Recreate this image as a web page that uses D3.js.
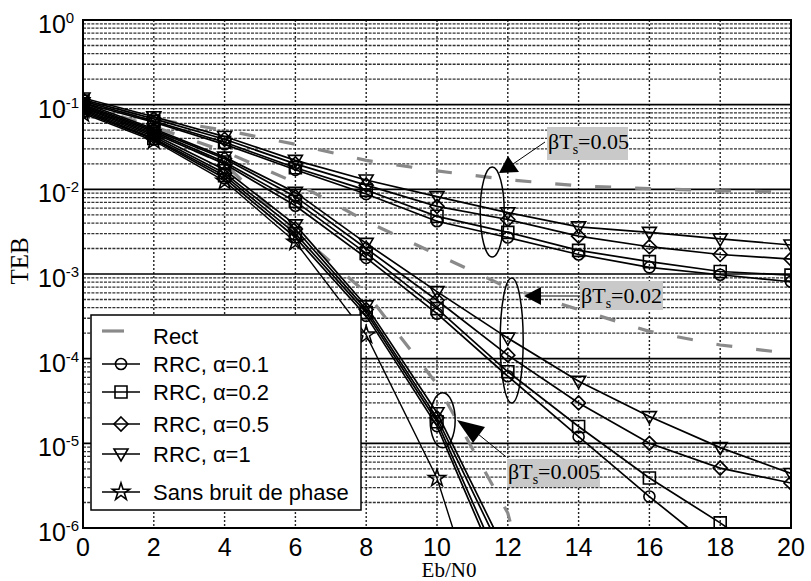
<!DOCTYPE html>
<html>
<head>
<meta charset="utf-8">
<script src="https://cdnjs.cloudflare.com/ajax/libs/d3/7.8.5/d3.min.js"></script>
<style>
  body { margin: 0; background: #fff; }
  svg { display: block; }
</style>
</head>
<body>
<div class="chart"></div>
<script>
// Eb/N0 points (dB)
var ebn0 = [0, 2, 4, 6, 8, 10, 12, 14, 16, 18, 20];
var xTicks = [0, 2, 4, 6, 8, 10, 12, 14, 16, 18, 20];
var yTicks = [0, -1, -2, -3, -4, -5, -6];

// Rect pulse, one curve per phase noise level (betaTs = 0.05, 0.02, 0.005)
var rect05 = [0.11, 0.068, 0.05, 0.034, 0.022, 0.0165, 0.013, 0.011, 0.0102, 0.0096, 0.0093];
var rect02 = [0.1, 0.055, 0.028, 0.012, 0.0042, 0.0017, 0.00069, 0.00038, 0.00021, 0.000145, 0.000115];
var rect005 = [0.095, 0.048, 0.02, 0.0032, 0.0006, 0.00005, 0.0000015, 1e-9, null, null, null];

// RRC, betaTs = 0.05
var a01_05 = [0.105, 0.062, 0.034, 0.017, 0.0088, 0.0042, 0.0027, 0.0017, 0.0012, 0.00098, 0.00081];
var a02_05 = [0.11, 0.064, 0.036, 0.018, 0.0098, 0.0048, 0.0031, 0.0019, 0.0014, 0.00107, 0.00097];
var a05_05 = [0.115, 0.068, 0.039, 0.02, 0.0112, 0.0063, 0.0044, 0.0028, 0.0021, 0.0017, 0.0015];
var a1_05 = [0.12, 0.072, 0.042, 0.022, 0.0129, 0.0082, 0.0053, 0.0036, 0.0031, 0.0026, 0.0022];

// RRC, betaTs = 0.02
var a01_02 = [0.094, 0.046, 0.02, 0.0064, 0.00155, 0.00034, 0.000062, 0.000012, 0.00000235, 0.0000005, 0.0000002];
var a02_02 = [0.097, 0.048, 0.021, 0.0072, 0.00175, 0.00039, 0.00007, 0.0000158, 0.0000039, 0.00000115, 0.0000003];
var a05_02 = [0.1, 0.05, 0.023, 0.0082, 0.002, 0.00049, 0.00011, 0.00003, 0.00001, 0.0000051, 0.0000034];
var a1_02 = [0.105, 0.052, 0.024, 0.0092, 0.0023, 0.00062, 0.000175, 0.000054, 0.0000207, 0.0000089, 0.0000044];

// RRC, betaTs = 0.005
var a01_005 = [0.082, 0.039, 0.0135, 0.0027, 0.00032, 0.000016, 0.00000018, null, null, null, null];
var a02_005 = [0.085, 0.040, 0.0145, 0.003, 0.00035, 0.000018, 0.00000023, null, null, null, null];
var a05_005 = [0.088, 0.042, 0.0155, 0.0034, 0.00038, 0.00002, 0.00000037, null, null, null, null];
var a1_005 = [0.092, 0.044, 0.017, 0.0038, 0.00042, 0.000023, 0.00000046, null, null, null, null];

// without phase noise
var noPhase = [0.0786, 0.0375, 0.0125, 0.00239, 0.000191, 0.00000387, 0.000000009, null, null, null, null];

var legendLabels = ["Rect", "RRC, \u03b1=0.1", "RRC, \u03b1=0.2", "RRC, \u03b1=0.5", "RRC, \u03b1=1", "Sans bruit de phase"];
var groupLabels = ["0.05", "0.02", "0.005"];

var width = 811, height = 581;
var margin = { top: 20, right: 20, bottom: 53, left: 83 };

var svg = d3.select(".chart").append("svg")
    .attr("width", width)
    .attr("height", height);

var x = d3.scaleLinear().domain([0, 20]).range([margin.left, width - margin.right]);
var y = d3.scaleLog().domain([1e-6, 1]).range([height - margin.bottom, margin.top]);

var sans = "'Liberation Sans', Arial, sans-serif";
var serif = "'Liberation Serif', 'Times New Roman', serif";

// grid
var grid = svg.append("g");
var minor = [];
yTicks.slice(0, -1).forEach(function (e) {
    for (var k = 2; k <= 9; k++) minor.push(k * Math.pow(10, e - 1));
});
grid.selectAll(".minor").data(minor).enter().append("line")
    .attr("x1", x(0)).attr("x2", x(20))
    .attr("y1", d => y(d)).attr("y2", d => y(d))
    .attr("stroke", "#333").attr("stroke-width", 1.3)
    .attr("stroke-dasharray", "3,1.2");
grid.selectAll(".vgrid").data(xTicks.slice(1, -1)).enter().append("line")
    .attr("x1", d => x(d)).attr("x2", d => x(d))
    .attr("y1", y(1)).attr("y2", y(1e-6))
    .attr("stroke", "#222").attr("stroke-width", 1.4)
    .attr("stroke-dasharray", "2,2");
grid.selectAll(".major").data(yTicks.slice(1, -1)).enter().append("line")
    .attr("x1", x(0)).attr("x2", x(20))
    .attr("y1", d => y(Math.pow(10, d))).attr("y2", d => y(Math.pow(10, d)))
    .attr("stroke", "#000").attr("stroke-width", 1.6);

svg.append("clipPath").attr("id", "plot")
    .append("rect")
    .attr("x", x(0)).attr("y", y(1))
    .attr("width", x(20) - x(0)).attr("height", y(1e-6) - y(1));

var curves = svg.append("g").attr("clip-path", "url(#plot)");

function series(vals) {
    return ebn0.map((e, i) => ({ x: e, y: vals[i] })).filter(d => d.y != null);
}

var line = d3.line().x(d => x(d.x)).y(d => y(d.y));

// rect curves (gray dashes)
[rect05, rect02, rect005].forEach(function (v) {
    curves.append("path")
        .attr("d", line(series(v)))
        .attr("fill", "none")
        .attr("stroke", "#8a8a8a")
        .attr("stroke-width", 3.2)
        .attr("stroke-dasharray", "16,24");
});

// marker shapes
function marker(kind, s) {
    var h = s / 2;
    if (kind == "circle") return d3.symbol(d3.symbolCircle, Math.PI * h * h * 0.85)();
    if (kind == "square") return "M" + (-h) + "," + (-h) + "h" + s + "v" + s + "h" + (-s) + "Z";
    if (kind == "diamond") return "M0," + (-h - 1) + "L" + (h + 1) + ",0L0," + (h + 1) + "L" + (-h - 1) + ",0Z";
    if (kind == "tri") return "M" + (-h - 1) + "," + (-h + 1) + "L" + (h + 1) + "," + (-h + 1) + "L0," + (h + 1) + "Z";
    return d3.symbol(d3.symbolStar, s * s * 0.55)();
}

var rrc = [
    { vals: [a01_05, a01_02, a01_005], kind: "circle" },
    { vals: [a02_05, a02_02, a02_005], kind: "square" },
    { vals: [a05_05, a05_02, a05_005], kind: "diamond" },
    { vals: [a1_05, a1_02, a1_005], kind: "tri" }
];

rrc.forEach(function (r) {
    r.vals.forEach(function (v) {
        var pts = series(v);
        curves.append("path")
            .attr("d", line(pts))
            .attr("fill", "none")
            .attr("stroke", "#000")
            .attr("stroke-width", 1.7);
        curves.selectAll(null).data(pts).enter().append("path")
            .attr("d", marker(r.kind, 12))
            .attr("transform", d => "translate(" + x(d.x) + "," + y(d.y) + ")")
            .attr("fill", "none")
            .attr("stroke", "#000")
            .attr("stroke-width", 1.6);
    });
});

var np = series(noPhase);
curves.append("path")
    .attr("d", line(np))
    .attr("fill", "none").attr("stroke", "#000").attr("stroke-width", 1.4);
curves.selectAll(null).data(np).enter().append("path")
    .attr("d", marker("star", 13))
    .attr("transform", d => "translate(" + x(d.x) + "," + y(d.y) + ")")
    .attr("fill", "none").attr("stroke", "#000").attr("stroke-width", 1.5);

// frame
svg.append("rect")
    .attr("x", x(0)).attr("y", y(1))
    .attr("width", x(20) - x(0)).attr("height", y(1e-6) - y(1))
    .attr("fill", "none").attr("stroke", "#000").attr("stroke-width", 2);

// tick labels
svg.selectAll(".xt").data(xTicks).enter().append("text")
    .attr("x", d => x(d)).attr("y", height - 25)
    .attr("text-anchor", "middle")
    .attr("font-family", sans).attr("font-size", 25)
    .text(d => d);

var yl = svg.selectAll(".yt").data(yTicks).enter().append("text")
    .attr("x", 38).attr("y", d => y(Math.pow(10, d)) + 13)
    .attr("font-family", sans).attr("font-size", 25);
yl.append("tspan").text("10");
yl.append("tspan").attr("dy", -10).attr("font-size", 15).text(d => d);

svg.append("text")
    .attr("x", 449).attr("y", 577)
    .attr("text-anchor", "middle")
    .attr("font-family", serif).attr("font-size", 21)
    .text("Eb/N0");
svg.append("text")
    .attr("transform", "translate(28,261) rotate(-90)")
    .attr("text-anchor", "middle")
    .attr("font-family", serif).attr("font-size", 25)
    .text("TEB");

// annotations: ellipses, arrows and labels for each phase noise level
var ann = svg.append("g");
var ellipses = [
    { cx: 11.56, cy: 5.4e-3, rx: 12, ry: 45 },
    { cx: 12.11, cy: 1.64e-4, rx: 11.5, ry: 62.5 },
    { cx: 10.16, cy: 1.87e-5, rx: 12.5, ry: 27.5 }
];
ann.selectAll("ellipse").data(ellipses).enter().append("ellipse")
    .attr("cx", d => x(d.cx)).attr("cy", d => y(d.cy))
    .attr("rx", d => d.rx).attr("ry", d => d.ry)
    .attr("fill", "none").attr("stroke", "#000").attr("stroke-width", 1.5);

var arrows = [
    { tri: [[508, 156], [499, 173], [519, 172]], line: [[513, 164], [545, 142]] },
    { tri: [[524, 296], [541, 287], [541, 305]], line: [[540, 296], [580, 296]] },
    { tri: [[457, 420], [485, 427], [473, 443]], line: [[478, 434], [505, 456]] }
];
arrows.forEach(function (a) {
    ann.append("line")
        .attr("x1", a.line[0][0]).attr("y1", a.line[0][1])
        .attr("x2", a.line[1][0]).attr("y2", a.line[1][1])
        .attr("stroke", "#000").attr("stroke-width", 1);
    ann.append("path")
        .attr("d", "M" + a.tri.join("L") + "Z")
        .attr("fill", "#000");
});

var boxes = [
    { x: 547, y: 127, w: 81, h: 33, base: 149 },
    { x: 580, y: 281, w: 83, h: 29, base: 303 },
    { x: 507, y: 459, w: 93, h: 28, base: 479 }
];
boxes.forEach(function (b, i) {
    ann.append("rect")
        .attr("x", b.x).attr("y", b.y).attr("width", b.w).attr("height", b.h)
        .attr("fill", "#c9c9c9");
    var t = ann.append("text")
        .attr("x", b.x + 1).attr("y", b.base)
        .attr("font-family", serif).attr("font-size", 22);
    t.append("tspan").text("\u03b2T");
    t.append("tspan").attr("font-size", 14).attr("dy", 5).text("s");
    t.append("tspan").attr("dy", -5).text("=" + groupLabels[i]);
});

// legend
var lg = svg.append("g");
lg.append("rect")
    .attr("x", 91).attr("y", 315).attr("width", 270).attr("height", 195)
    .attr("fill", "#fff").attr("stroke", "#000").attr("stroke-width", 1.5);
var rowY = [336, 364, 392, 424, 454, 492];
var kinds = [null, "circle", "square", "diamond", "tri", "star"];
legendLabels.forEach(function (lab, i) {
    var ry = rowY[i];
    if (i == 0) {
        lg.append("line")
            .attr("x1", 102).attr("x2", 124).attr("y1", ry - 5).attr("y2", ry - 5)
            .attr("stroke", "#8a8a8a").attr("stroke-width", 3.2);
    } else {
        lg.append("line")
            .attr("x1", 102).attr("x2", 140).attr("y1", ry).attr("y2", ry)
            .attr("stroke", "#000").attr("stroke-width", 1.7);
        lg.append("path")
            .attr("d", marker(kinds[i], i == 5 ? 13 : 12))
            .attr("transform", "translate(121," + ry + ")")
            .attr("fill", "none").attr("stroke", "#000").attr("stroke-width", 1.6);
    }
    lg.append("text")
        .attr("x", 153).attr("y", ry + 8)
        .attr("font-family", sans).attr("font-size", 22)
        .text(lab);
});
</script>
</body>
</html>
